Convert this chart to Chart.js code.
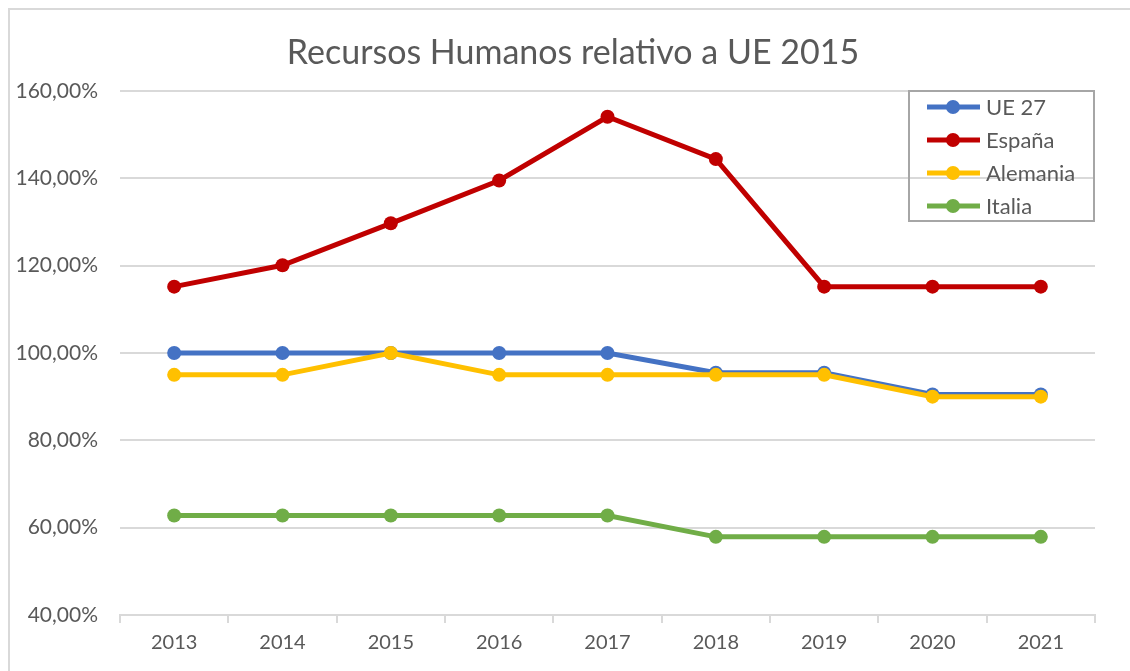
<!DOCTYPE html>
<html>
<head>
<meta charset="utf-8">
<script src="https://cdn.jsdelivr.net/npm/chart.js@4.4.1/dist/chart.umd.min.js"></script>
<style>
  html, body { margin: 0; padding: 0; background: #fff; }
  #wrap { width: 1130px; height: 671px; position: relative; }
</style>
</head>
<body>
<div id="wrap"><canvas id="chart" width="1130" height="671"></canvas></div>
<script>
const years = ['2013', '2014', '2015', '2016', '2017', '2018', '2019', '2020', '2021'];
const seriesNames = ['UE 27', 'España', 'Alemania', 'Italia'];
const seriesColors = ['#4472C4', '#C00000', '#FFC000', '#70AD47'];
const ue27 = [100, 100, 100, 100, 100, 95.5, 95.5, 90.5, 90.5];
const espana = [115.2, 120.1, 129.7, 139.5, 154.1, 144.4, 115.2, 115.2, 115.2];
const alemania = [95, 95, 100, 95, 95, 95, 95, 90, 90];
const italia = [62.8, 62.8, 62.8, 62.8, 62.8, 57.9, 57.9, 57.9, 57.9];
const yTicks = [40, 60, 80, 100, 120, 140, 160];
const chartTitle = 'Recursos Humanos relativo a UE 2015';

const textColor = '#595959';
const fontFamily = 'Lato, "Open Sans", sans-serif';

// outer frame, title and boxed legend, drawn by hand
const frameLegend = {
    id: 'frameLegend',
    afterDraw(chart) {
        const ctx = chart.ctx;
        ctx.save();
        ctx.strokeStyle = '#d9d9d9';
        ctx.lineWidth = 2;
        ctx.strokeRect(9, 9, 1200, 1000);

        ctx.fillStyle = textColor;
        ctx.font = '34px ' + fontFamily;
        ctx.textAlign = 'center';
        ctx.textBaseline = 'middle';
        ctx.fillText(chartTitle, 573, 53);

        const bx = 909, by = 91, bw = 185, bh = 130;
        ctx.strokeStyle = '#a6a6a6';
        ctx.lineWidth = 2;
        ctx.strokeRect(bx, by, bw, bh);

        ctx.font = '22px ' + fontFamily;
        ctx.textAlign = 'left';
        seriesNames.forEach((name, i) => {
            const y = 107 + i * 33;
            ctx.strokeStyle = seriesColors[i];
            ctx.lineWidth = 5;
            ctx.beginPath();
            ctx.moveTo(927, y);
            ctx.lineTo(980, y);
            ctx.stroke();
            ctx.fillStyle = seriesColors[i];
            ctx.beginPath();
            ctx.arc(953, y, 7, 0, Math.PI * 2);
            ctx.fill();
            ctx.fillStyle = textColor;
            ctx.fillText(name, 986, y + 1);
        });
        ctx.restore();
    }
};

const data = [ue27, espana, alemania, italia];
const order = [4, 3, 2, 1];

new Chart(document.getElementById('chart'), {
    type: 'line',
    data: {
        labels: years,
        datasets: data.map((d, i) => ({
            label: seriesNames[i],
            data: d,
            borderColor: seriesColors[i],
            backgroundColor: seriesColors[i],
            borderWidth: 5,
            pointRadius: 7,
            pointBorderWidth: 0,
            pointBackgroundColor: seriesColors[i],
            tension: 0,
            fill: false,
            order: order[i]
        }))
    },
    options: {
        responsive: false,
        animation: false,
        layout: { padding: { left: 0, right: 35, top: 91, bottom: 0 } },
        plugins: {
            legend: { display: false },
            tooltip: { enabled: false },
            title: { display: false }
        },
        scales: {
            x: {
                offset: true,
                grid: {
                    offset: true,
                    drawOnChartArea: false,
                    drawTicks: true,
                    tickLength: 8,
                    color: '#d9d9d9',
                    lineWidth: 2
                },
                border: { display: true, color: '#d9d9d9', width: 2 },
                ticks: {
                    color: textColor,
                    font: { family: fontFamily, size: 20 },
                    padding: 8,
                    maxRotation: 0
                },
                afterFit: s => { s.height = 56; }
            },
            y: {
                min: 40,
                max: 160,
                afterBuildTicks: s => { s.ticks = yTicks.map(v => ({ value: v })); },
                grid: { color: '#d9d9d9', lineWidth: 2, drawTicks: false },
                border: { display: false },
                ticks: {
                    color: textColor,
                    font: { family: fontFamily, size: 21 },
                    padding: 22,
                    callback: v => v.toFixed(2).replace('.', ',') + '%'
                },
                afterFit: s => { s.width = 120; }
            }
        }
    },
    plugins: [frameLegend]
});
</script>
</body>
</html>
